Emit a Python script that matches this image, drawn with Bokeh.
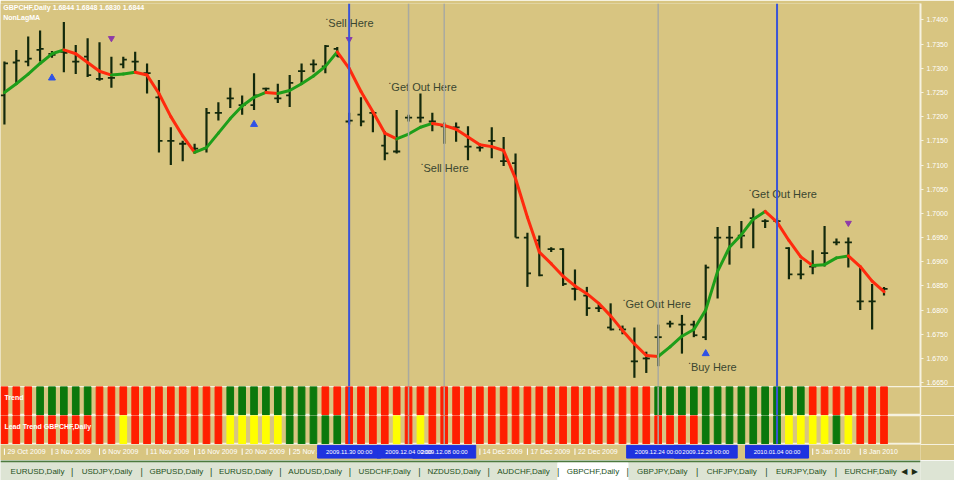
from bokeh.plotting import figure
from bokeh.layouts import column
from bokeh.models import Range1d, Span, FixedTicker, Label, ColumnDataSource, NumeralTickFormatter
from bokeh.core.properties import value
from bokeh.embed import file_html
from bokeh.resources import INLINE

# ---------------- data ----------------
symbol = "GBPCHF,Daily"

bar_high = [1.7314, 1.7338, 1.7366, 1.7378, 1.7336, 1.7396, 1.7348, 1.7362, 1.7354, 1.7324,
            1.7324, 1.7334, 1.7310, 1.7276, 1.7178, 1.7150, 1.7144, 1.7218, 1.7230, 1.7260,
            1.7244, 1.7290, 1.7260, 1.7268, 1.7286, 1.7310, 1.7318, 1.7348, 1.7344, 1.7208,
            1.7240, 1.7210, 1.7170, 1.7214, 1.7204, 1.7248, 1.7208, 1.7188, 1.7188, 1.7180,
            1.7144, 1.7178, 1.7158, 1.7124, 1.6960, 1.6954, 1.6930, 1.6928, 1.6884, 1.6848,
            1.6812, 1.6814, 1.6768, 1.6764, 1.6714, 1.6770, 1.6778, 1.6790, 1.6778, 1.6894,
            1.6972, 1.6974, 1.6984, 1.7010, 1.6988, 1.6990, 1.6930, 1.6904, 1.6924, 1.6974,
            1.6948, 1.6950, 1.6890, 1.6854, 1.6848]
bar_low = [1.7184, 1.7268, 1.7304, 1.7314, 1.7322, 1.7292, 1.7288, 1.7282, 1.7274, 1.7260,
           1.7300, 1.7292, 1.7248, 1.7126, 1.7100, 1.7108, 1.7124, 1.7126, 1.7192, 1.7218,
           1.7204, 1.7214, 1.7248, 1.7228, 1.7220, 1.7268, 1.7292, 1.7290, 1.7324, 1.7184,
           1.7180, 1.7168, 1.7110, 1.7124, 1.7190, 1.7188, 1.7170, 1.7144, 1.7148, 1.7110,
           1.7128, 1.7114, 1.7098, 1.6950, 1.6848, 1.6870, 1.6920, 1.6850, 1.6820, 1.6788,
           1.6796, 1.6758, 1.6750, 1.6660, 1.6670, 1.6684, 1.6764, 1.6710, 1.6744, 1.6738,
           1.6824, 1.6894, 1.6928, 1.6928, 1.6970, 1.6978, 1.6864, 1.6864, 1.6874, 1.6890,
           1.6934, 1.6888, 1.6800, 1.6760, 1.6830]
bar_open = [1.7244, 1.7312, 1.7314, 1.7338, 1.7330, 1.7334, 1.7314, 1.7324, 1.7278, 1.7280,
            1.7308, 1.7314, 1.7290, 1.7240, 1.7150, 1.7144, 1.7134, 1.7134, 1.7208, 1.7238,
            1.7224, 1.7224, 1.7258, 1.7238, 1.7244, 1.7294, 1.7308, 1.7304, 1.7340, 1.7190,
            1.7204, 1.7208, 1.7140, 1.7128, 1.7198, 1.7198, 1.7190, 1.7180, 1.7178, 1.7138,
            1.7136, 1.7150, 1.7108, 1.7104, 1.6950, 1.6944, 1.6926, 1.6926, 1.6844, 1.6830,
            1.6804, 1.6764, 1.6760, 1.6694, 1.6700, 1.6744, 1.6772, 1.6770, 1.6770, 1.6744,
            1.6950, 1.6950, 1.6954, 1.6990, 1.6984, 1.6984, 1.6928, 1.6874, 1.6890, 1.6918,
            1.6940, 1.6940, 1.6818, 1.6818, 1.6844]
bar_close = [1.7310, 1.7316, 1.7320, 1.7340, 1.7328, 1.7332, 1.7314, 1.7286, 1.7278, 1.7280,
             1.7318, 1.7314, 1.7290, 1.7150, 1.7150, 1.7144, 1.7134, 1.7208, 1.7208, 1.7238,
             1.7224, 1.7244, 1.7258, 1.7238, 1.7270, 1.7294, 1.7308, 1.7346, 1.7324, 1.7192,
             1.7190, 1.7208, 1.7124, 1.7128, 1.7198, 1.7198, 1.7190, 1.7180, 1.7178, 1.7138,
             1.7136, 1.7150, 1.7108, 1.6950, 1.6876, 1.6872, 1.6926, 1.6854, 1.6844, 1.6804,
             1.6804, 1.6760, 1.6760, 1.6694, 1.6700, 1.6744, 1.6772, 1.6770, 1.6748, 1.6888,
             1.6950, 1.6950, 1.6954, 1.6990, 1.6984, 1.6984, 1.6874, 1.6874, 1.6890, 1.6918,
             1.6940, 1.6940, 1.6818, 1.6818, 1.6844]
ma_line = [1.7250, 1.7268, 1.7288, 1.7310, 1.7330, 1.7338, 1.7330, 1.7312, 1.7294, 1.7286,
           1.7288, 1.7292, 1.7286, 1.7248, 1.7200, 1.7160, 1.7126, 1.7136, 1.7166, 1.7196,
           1.7222, 1.7240, 1.7250, 1.7248, 1.7254, 1.7268, 1.7284, 1.7304, 1.7334, 1.7300,
           1.7252, 1.7210, 1.7166, 1.7154, 1.7164, 1.7178, 1.7186, 1.7182, 1.7174, 1.7158,
           1.7142, 1.7138, 1.7130, 1.7072, 1.6992, 1.6920, 1.6896, 1.6870, 1.6850, 1.6834,
           1.6814, 1.6788, 1.6758, 1.6730, 1.6706, 1.6704, 1.6724, 1.6746, 1.6760, 1.6800,
           1.6880, 1.6930, 1.6956, 1.6988, 1.7004, 1.6982, 1.6944, 1.6910, 1.6892, 1.6894,
           1.6908, 1.6912, 1.6890, 1.6860, 1.6838]

# indicator states per bar: r = down, g = up, y = neutral
trend_state = list("rrrgggggrr" "rrrrrrrrrg" "gggggggrrr" "rrrrrrrrrr" "rrrrrrrrrr"
                   "rrrrrggggg" "ggggggggrr" "rrrrr")
lead_state = list("rrrrrrrrrr" "yrrrrrrrry" "yyyygggggr" "rrryryrrrr" "rrrrrrrrrr"
                  "rrrrrrrrrg" "ggggggyyyy" "gyrrr")

price_ticks = [1.6650, 1.6700, 1.6750, 1.6800, 1.6850, 1.6900, 1.6950, 1.7000,
               1.7050, 1.7100, 1.7150, 1.7200, 1.7250, 1.7300, 1.7350, 1.7400]

blue_lines = [29, 65]
gray_lines = [34, 37, 55]

buy_idx = [4, 21, 59]
buy_price = [1.7280, 1.7184, 1.6710]
sell_idx = [9, 29, 71]
sell_price = [1.7362, 1.7360, 1.6980]

note_idx = [27.0, 32.3, 35.0, 52.0, 57.5, 62.6]
note_price = [1.7394, 1.7262, 1.7094, 1.6812, 1.6682, 1.7040]
note_text = ["Sell Here", "Get Out Here", "Sell Here", "Get Out Here", "Buy Here", "Get Out Here"]

date_idx = [0, 4, 8, 12, 16, 20, 24, 40, 44, 48, 68, 72]
date_text = ["29 Oct 2009", "3 Nov 2009", "6 Nov 2009", "11 Nov 2009", "16 Nov 2009",
             "20 Nov 2009", "25 Nov 2009", "14 Dec 2009", "17 Dec 2009", "22 Dec 2009",
             "5 Jan 2010", "8 Jan 2010"]
box_idx = [29, 34, 37, 55, 59, 65]
box_text = ["2009.11.30 00:00", "2009.12.04 00:00", "2009.12.08 00:00",
            "2009.12.24 00:00", "2009.12.29 00:00", "2010.01.04 00:00"]

tab_names = ["EURUSD,Daily", "USDJPY,Daily", "GBPUSD,Daily", "EURUSD,Daily", "AUDUSD,Daily",
             "USDCHF,Daily", "NZDUSD,Daily", "AUDCHF,Daily", "GBPCHF,Daily", "GBPJPY,Daily",
             "CHFJPY,Daily", "EURJPY,Daily", "EURCHF,Daily"]
active_tab = "GBPCHF,Daily"

# ---------------- style ----------------
BG = "#D8C581"
BAR = "#13290c"
MA_UP = "#1E9E1A"
MA_DN = "#FF2A0E"
STATE_COL = {"r": "#FF1E00", "g": "#0B780C", "y": "#FFFF00"}
FONT = value("Liberation Sans")
W = 954
RB = 34

n = len(bar_close)
idx = list(range(n))
xr = Range1d(-0.33, 77.07)


def base_fig(h, yr, yloc=None):
    f = figure(width=W, height=h, x_range=xr, y_range=yr, output_backend="svg",
               toolbar_location=None, background_fill_color=BG, border_fill_color=BG,
               min_border_left=0, min_border_right=RB, min_border_top=0, min_border_bottom=0,
               x_axis_location=None, y_axis_location=yloc)
    f.grid.visible = False
    return f


# ---------------- main price panel ----------------
p = base_fig(386, Range1d(1.6642, 1.7434), yloc="right")
p.min_border_top = 3
p.outline_line_color = None
ax = p.yaxis[0]
ax.ticker = FixedTicker(ticks=price_ticks)
ax.formatter = NumeralTickFormatter(format="0.0000")
ax.axis_line_color = "#f6f2e0"
ax.axis_line_width = 2
ax.major_tick_line_color = "#f6f2e0"
ax.major_tick_out = 3
ax.major_tick_in = 0
ax.minor_tick_line_color = None
ax.major_label_text_color = "white"
ax.major_label_text_font_size = "7px"
ax.major_label_text_font = "Liberation Sans"
ax.major_label_standoff = 3

for loc in gray_lines:
    p.add_layout(Span(location=loc, dimension="height", line_color="#a9aaa0", line_width=1.5))
for loc in blue_lines:
    p.add_layout(Span(location=loc, dimension="height", line_color="#3b55d6", line_width=2))

# OHLC bars
p.segment(x0=idx, y0=bar_low, x1=idx, y1=bar_high, line_color=BAR, line_width=2.2)
p.segment(x0=[i - 0.3 for i in idx], y0=bar_open, x1=idx, y1=bar_open, line_color=BAR, line_width=1.8)
p.segment(x0=idx, y0=bar_close, x1=[i + 0.3 for i in idx], y1=bar_close, line_color=BAR, line_width=1.8)

# smoothed line coloured by direction
seg_col = [MA_UP if ma_line[i + 1] > ma_line[i] else MA_DN for i in range(n - 1)]
p.segment(x0=idx[:-1], y0=ma_line[:-1], x1=idx[1:], y1=ma_line[1:],
          line_color=seg_col, line_width=3, line_cap="round")

# signal markers
p.scatter(buy_idx, buy_price, marker="triangle", size=7, color="#2f52e6")
p.scatter(sell_idx, sell_price, marker="inverted_triangle", size=6, color="#8e3aa8")

# text notes
ns = ColumnDataSource(dict(x=note_idx, y=note_price, t=note_text))
p.text(x="x", y="y", text="t", source=ns, text_font=FONT, text_font_size="11px",
       text_color="#3a4630", text_baseline="middle", text_align="left", x_offset=3)
p.text(x="x", y="y", text=value("."), source=ns, text_font=FONT, text_font_size="11px",
       text_color="#3a4630", text_baseline="middle", text_align="left", y_offset=-7)

last = n - 1
p.add_layout(Label(x=-0.1, y=1.7432, text="%s  %.4f %.4f %.4f %.4f" % (
    symbol, bar_open[last], bar_high[last], bar_low[last], bar_close[last]),
    text_color="white", text_font_size="7px", text_font_style="bold",
    text_baseline="top", text_font="Liberation Sans"))
p.add_layout(Label(x=-0.1, y=1.7412, text="NonLagMA", text_color="white", text_font_size="7px",
                   text_font_style="bold", text_baseline="top", text_font="Liberation Sans"))
p.add_layout(Label(x=922, x_units="screen", y=bar_close[last], text="%.4f" % bar_close[last],
                   text_color=BG, text_font_size="7px", text_baseline="middle",
                   background_fill_color="white", text_font="Liberation Sans"))


# ---------------- indicator panels ----------------
def panel(states, title):
    f = base_fig(29, Range1d(0, 1))
    f.outline_line_color = "#f6f2e0"
    f.outline_line_width = 1.5
    for loc in gray_lines:
        f.add_layout(Span(location=loc, dimension="height", line_color="#a9aaa0", line_width=1.5))
    f.vbar(x=idx, width=0.56, bottom=0, top=1, color=[STATE_COL[s] for s in states])
    for loc in blue_lines:
        f.add_layout(Span(location=loc, dimension="height", line_color="#3b55d6", line_width=2))
    f.add_layout(Label(x=0.0, y=0.62, text=title, text_color="white", text_font_size="7px",
                       text_font_style="bold", text_baseline="middle", text_font="Liberation Sans"))
    return f


p1 = panel(trend_state, "Trend")
p2 = panel(lead_state, "Lead Trend  GBPCHF,Daily")

# ---------------- date strip ----------------
pd_ = base_fig(16, Range1d(0, 1))
pd_.outline_line_color = None
ds = ColumnDataSource(dict(x=date_idx, t=date_text))
pd_.segment(x0="x", y0=0.35, x1="x", y1=0.75, source=ds, line_color="white", line_width=1)
pd_.text(x="x", y=0.55, text="t", source=ds, text_font=FONT, text_font_size="7px",
         text_color="white", text_baseline="middle", x_offset=3)
bs = ColumnDataSource(dict(x=box_idx, t=box_text))
pd_.rect(x="x", y=0.55, width=5.3, height=0.8, source=bs, color="#1f33e0")
pd_.text(x="x", y=0.55, text="t", source=bs, text_font=FONT, text_font_size="6px",
         text_color="white", text_baseline="middle", text_align="center")

# ---------------- tab bar ----------------
pt = figure(width=W, height=20, x_range=Range1d(0, 970), y_range=Range1d(0, 1),
            output_backend="svg", toolbar_location=None, background_fill_color="#dde4d4",
            border_fill_color="#dde4d4", min_border=0, x_axis_location=None, y_axis_location=None)
pt.grid.visible = False
pt.outline_line_color = None
tab_x = [39 + 73.2 * k for k in range(len(tab_names))]
act = tab_names.index(active_tab)
pt.rect(x=[tab_x[act]], y=[0.45], width=74, height=0.9, color="white")
pt.add_layout(Span(location=0.96, dimension="width", line_color="#4d7a3e", line_width=2))
pt.text(x=tab_x, y=0.45, text=tab_names, text_font=FONT, text_font_size="8px",
        text_color="#24501a", text_align="center", text_baseline="middle")
pt.text(x=[t + 36.6 for t in tab_x[:-1]], y=0.45, text=["|"] * (len(tab_names) - 1), text_font=FONT,
        text_font_size="9px", text_color="#24501a", text_align="center", text_baseline="middle")
pt.text(x=[953, 964], y=0.45, text=["◀", "▶"], text_font=value("DejaVu Sans"), text_font_size="8px",
        text_color="#1c2a14", text_align="center", text_baseline="middle")

layout = column(p, p1, p2, pd_, pt, spacing=0)
open("out.html", "w").write(file_html(layout, INLINE))
